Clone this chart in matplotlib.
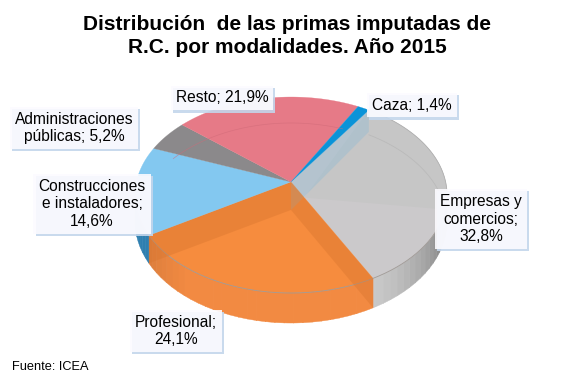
import matplotlib
matplotlib.use("Agg")
import matplotlib.pyplot as plt
import matplotlib.patheffects as pe
import numpy as np

plt.rcParams['font.family'] = ['Liberation Sans', 'DejaVu Sans']

# clockwise from the Caza/Empresas edge
names = ["Empresas y\ncomercios;", "Profesional;", "Construcciones\ne instaladores;",
         "Administraciones\npúblicas;", "Resto;", "Caza;"]
shares = [32.8, 24.1, 14.6, 5.2, 21.9, 1.4]
share_labels = ["32,8%", "24,1%", "14,6%", "5,2%", "21,9%", "1,4%"]
colors = ["#CBC9CB", "#F68C3E", "#83C8F0", "#8B898B", "#E67A87", "#0A93D8"]
side_colors = ["#C8C8C8", "#F28A42", "#2F7FB0", "#666666", "#B05A66", "#0A70A8"]

# fake 3D geometry, in pixels
cx, cy, rx, ry = 291, 195, 156, 98
tilt = 0.133
start = 34

fig = plt.figure(figsize=(5.67, 3.79), dpi=100)
ax = fig.add_axes([0, 0, 1, 1])
ax.set_xlim(0, 567)
ax.set_ylim(379, 0)
ax.axis("off")


def project(theta, r=1.0):
    # theta in degrees clockwise from the top, projective map keeps the circle an ellipse
    t = np.radians(theta)
    u, v = r * np.sin(t), r * np.cos(t)
    den = 1 + tilt * v
    x = u * np.sqrt(1 - tilt ** 2) / den
    y = (v + tilt) / den
    return cx + rx * x, cy - ry * y


def depth(theta, r=1.0):
    return 25.5 - 4.5 * r * np.cos(np.radians(theta))


edges = start + np.cumsum([0] + shares) * 3.6
front_from = 90 + np.degrees(np.arcsin(tilt))
front_to = 270 - np.degrees(np.arcsin(tilt))

# outer wall, cut in small strips to get the shading
for a0, a1, col in zip(edges[:-1], edges[1:], side_colors):
    for a in np.arange(a0 % 360, a0 % 360 + (a1 - a0), 3.0):
        b = min(a + 3.2, a0 % 360 + (a1 - a0))
        if b < front_from or a > front_to:
            continue
        th = np.linspace(max(a, front_from), min(b, front_to), 4)
        x, y = project(th)
        d = depth(th)
        shade = 1.0
        if col == side_colors[0]:
            shade = 1.0 - 0.4 * np.clip((150 - a) / 45, 0, 1) ** 1.3
        elif col == side_colors[1]:
            shade = 1.0 - 0.12 * np.clip((a - 215) / 30, 0, 1)
        rgb = np.array(matplotlib.colors.to_rgb(col)) * shade
        ax.fill(np.r_[x, x[::-1]], np.r_[y, (y + d)[::-1]], color=rgb, lw=0.3, zorder=1)

# top faces
for a0, a1, col in zip(edges[:-1], edges[1:], colors):
    th = np.linspace(a0, a1, 80)
    x, y = project(th)
    ax.fill(np.r_[project(0, 0)[0], x], np.r_[project(0, 0)[1], y], color=col, lw=0.2, zorder=2)

# slightly darker back part of the grey slice
th = np.linspace(edges[0], 106, 60)
x, y = project(th)
x0, y0 = project(edges[1], 0.18)
ax.fill(np.r_[x0, x], np.r_[y0, y], color="#C6C6C6", lw=0, zorder=2)

# rim line at the top edge
x, y = project(np.linspace(front_from, front_to, 200))
ax.plot(x, y, color="#A09A96", lw=0.6, zorder=3)
x, y = project(np.linspace(edges[0], front_from, 100))
ax.plot(x, y, color="#B0B0B0", lw=0.6, zorder=3)

# back part of the bottom rim seen through the top
th = np.linspace(-55, 22, 100)
x, y = project(th)
ax.plot(x, y + depth(th) + 5, color="#D06A78", lw=0.5, alpha=0.6, zorder=3)
th = np.linspace(edges[0], 95, 100)
x, y = project(th)
ax.plot(x, y + depth(th) + 3, color="#BABABA", lw=0.6, zorder=3)


def radial_wall(theta, col, alpha):
    x0, y0 = project(theta, 0)
    x1, y1 = project(theta)
    ax.fill([x0, x1, x1, x0], [y0, y1, y1 + depth(theta), y0 + 28],
            color=col, alpha=alpha, lw=0, zorder=3)


# see-through inner walls
radial_wall(edges[0], "#7FB8D8", 0.3)
radial_wall(edges[1], "#D9762F", 0.42)
radial_wall(edges[2], "#D9762F", 0.42)

# labels
label_x = [481, 176, 92, 74, 222, 412]
label_y = [219, 331, 204, 128, 98, 105]
for name, share, lx, ly in zip(names, share_labels, label_x, label_y):
    sep = " " if name in ("Resto;", "Caza;") or name.startswith("Admin") else "\n"
    t = ax.text(lx, ly, name + sep + share, ha="center", va="center", fontsize=11.2,
                linespacing=1.2, color="black", zorder=5,
                bbox=dict(boxstyle="square,pad=0.32", fc="#FCFBFF", ec="none", alpha=0.9))
    t.get_bbox_patch().set_path_effects([
        pe.SimplePatchShadow(offset=(1.5, -1.5), shadow_rgbFace="#C3D6EC", alpha=0.9), pe.Normal()])

ax.text(287, 36, "Distribución  de las primas imputadas de\nR.C. por modalidades. Año 2015",
        ha="center", va="center", fontsize=15, fontweight="bold", linespacing=1.32)
ax.text(12, 367, "Fuente: ICEA", ha="left", va="center", fontsize=9.2)

fig.savefig("out.png", dpi=100)
